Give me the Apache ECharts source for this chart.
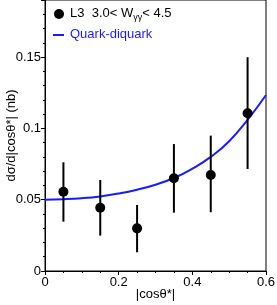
<!DOCTYPE html>
<html><head><meta charset="utf-8">
<script src="https://cdn.jsdelivr.net/npm/echarts@6/dist/echarts.min.js"></script>
<style>html,body{margin:0;padding:0;background:#fff}#c{width:277px;height:305px}</style>
</head><body><div id="c"></div>
<script>
// Data points
const xCenters = [0.05, 0.15, 0.25, 0.35, 0.45, 0.55];
const yValues  = [0.0556, 0.0444, 0.0299, 0.0650, 0.0673, 0.1106];
const yLow     = [0.0346, 0.0248, 0.0131, 0.0409, 0.0412, 0.0715];
const yHigh    = [0.0762, 0.0638, 0.0463, 0.0890, 0.0949, 0.1499];
// Quark-diquark curve
const curveX = [0.00, 0.05, 0.10, 0.15, 0.20, 0.25, 0.30, 0.35, 0.40, 0.45, 0.50, 0.55, 0.60];
const curveY = [0.0500, 0.0503, 0.0510, 0.0523, 0.0543, 0.0570, 0.0605, 0.0652, 0.0717, 0.0800, 0.0910, 0.1060, 0.1234];

const FONT = 'Liberation Sans';
const chart = echarts.init(document.getElementById('c'), null, {renderer:'canvas'});
chart.setOption({
  animation:false,
  grid:{left:45, right:11, top:0, bottom:34, show:true, borderColor:'#000', borderWidth:1,
        containLabel:false, outerBoundsMode:'none'},
  xAxis:{type:'value', min:0, max:0.6, interval:0.2,
    name:'|cosθ*|', nameLocation:'middle', nameGap:17, nameMoveOverlap:false,
    nameTextStyle:{fontFamily:FONT, fontSize:13, color:'#000', verticalAlign:'top'},
    axisLine:{lineStyle:{color:'#000'}},
    axisTick:{length:4, lineStyle:{color:'#000'}},
    minorTick:{show:true, splitNumber:4, length:2, lineStyle:{color:'#000'}},
    splitLine:{show:false},
    axisLabel:{fontFamily:FONT, fontSize:13, color:'#000', margin:5,
      formatter:v=>v===0?'0':String(+v.toFixed(1))}
  },
  yAxis:{type:'value', min:0, max:0.19, interval:0.05,
    name:'dσ/d|cosθ*| (nb)', nameLocation:'middle', nameGap:27, nameMoveOverlap:false,
    nameTextStyle:{fontFamily:FONT, fontSize:13, color:'#000'},
    axisLine:{show:true, lineStyle:{color:'#000'}},
    axisTick:{show:true, length:4, lineStyle:{color:'#000'}},
    minorTick:{show:true, splitNumber:5, length:2, lineStyle:{color:'#000'}},
    splitLine:{show:false},
    axisLabel:{fontFamily:FONT, fontSize:13, color:'#000', margin:4,
      formatter:v=>v===0?'0':String(+v.toFixed(2)),
      showMaxLabel:false}
  },
  series:[
    {type:'line', data:curveX.map((x,i)=>[x,curveY[i]]), smooth:true, symbol:'none',
      lineStyle:{color:'#1a1aff', width:2}, z:2},
    {type:'custom', data:xCenters.map((x,i)=>[x,yLow[i],yHigh[i]]),
      renderItem:(params,api)=>{
        const p1=api.coord([api.value(0),api.value(1)]);
        const p2=api.coord([api.value(0),api.value(2)]);
        return {type:'line', shape:{x1:p1[0],y1:p1[1],x2:p2[0],y2:p2[1]}, style:{stroke:'#000', lineWidth:2}};
      }, z:3},
    {type:'scatter', data:xCenters.map((x,i)=>[x,yValues[i]]), symbol:'circle', symbolSize:10,
      itemStyle:{color:'#000', opacity:1}, z:4}
  ],
  graphic:[
    {type:'circle', shape:{cx:59, cy:14, r:5}, style:{fill:'#000'}},
    {type:'text', left:70, top:7, style:{text:'{a|L3  3.0< W}{s|γγ}{a|< 4.5}', fill:'#000',
      rich:{a:{fontFamily:FONT, fontSize:13, fill:'#000'}, s:{fontFamily:FONT, fontSize:9, fill:'#000', padding:[8,0,0,0]}}}},
    {type:'line', shape:{x1:53, y1:35, x2:64, y2:35}, style:{stroke:'#1a1aff', lineWidth:2}},
    {type:'text', left:70, top:28, style:{text:'Quark-diquark', fill:'#1a1aff', font:'13px "Liberation Sans"'}}
  ]
});
</script></body></html>
